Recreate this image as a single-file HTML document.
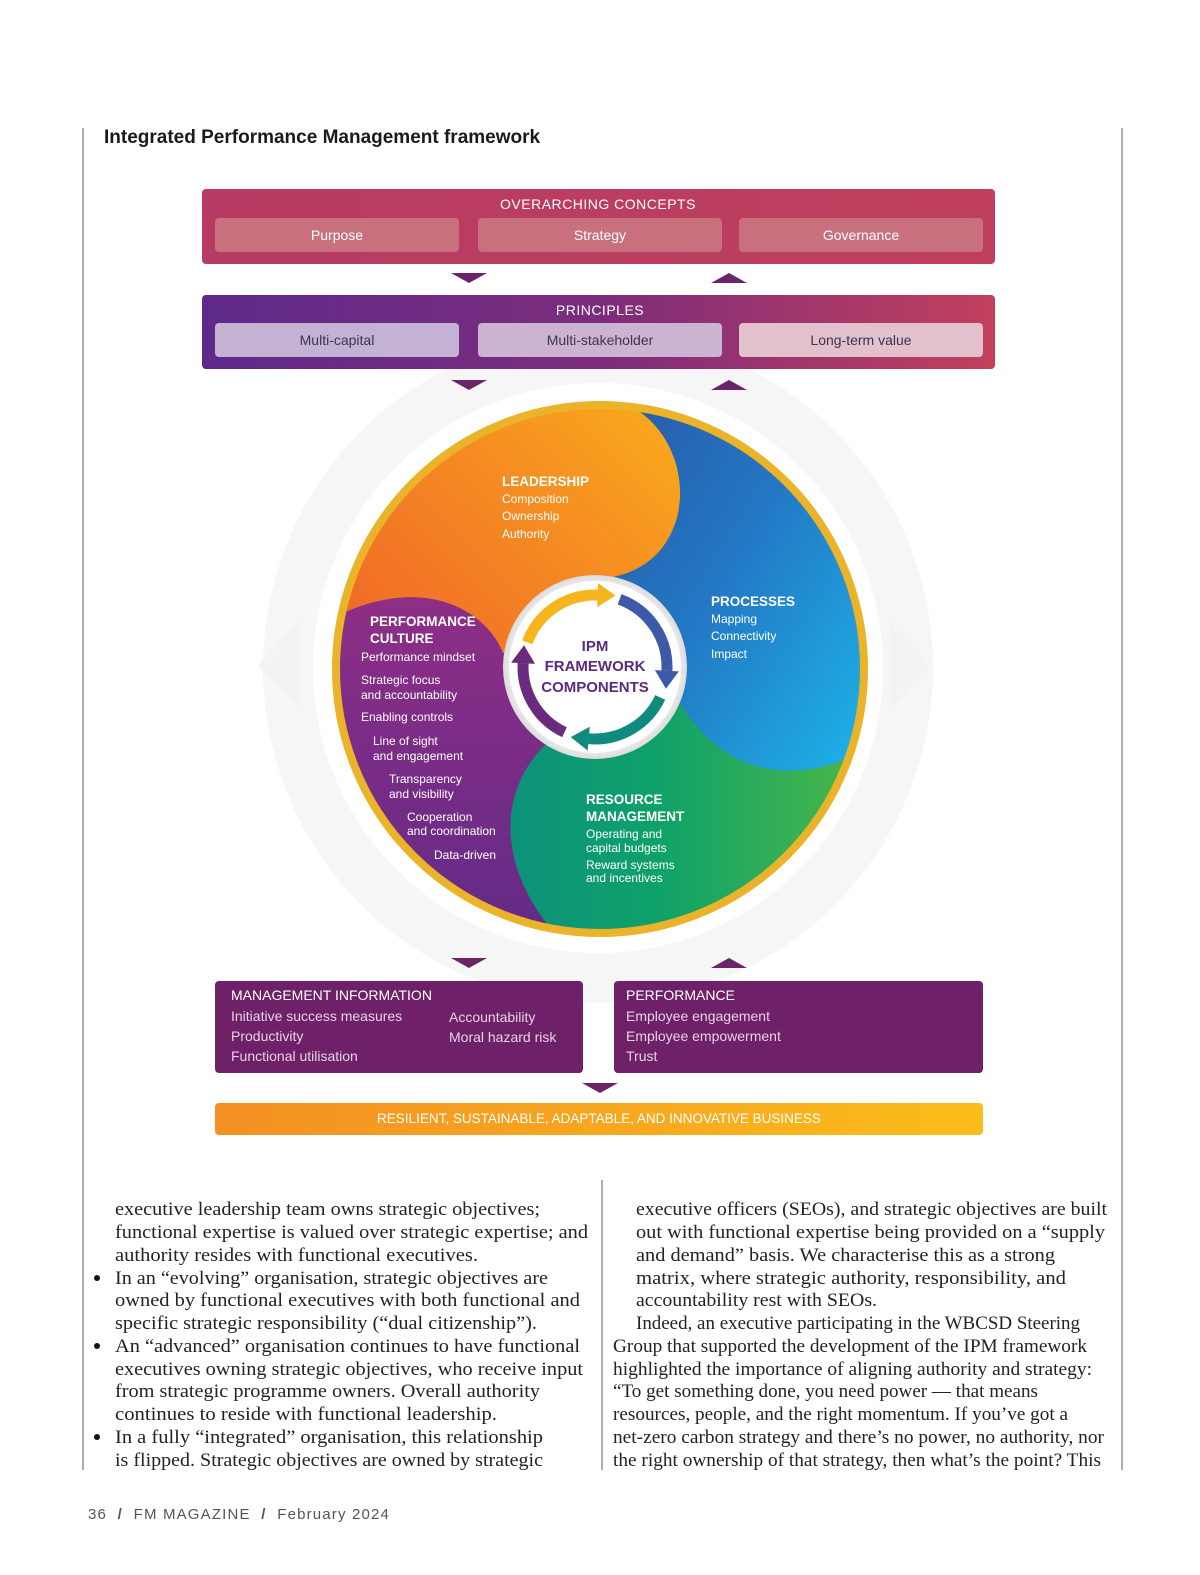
<!DOCTYPE html>
<html><head><meta charset="utf-8"><style>
html,body{margin:0;padding:0;background:#fff;}
svg{display:block;}
.s{font-family:"Liberation Sans",sans-serif;}
.b{font-family:"Liberation Serif",serif;font-size:18.5px;fill:#222;}
</style></head><body>
<svg width="1200" height="1575" viewBox="0 0 1200 1575" xmlns="http://www.w3.org/2000/svg">
<defs>
<linearGradient id="gTop" x1="0" x2="1"><stop offset="0" stop-color="#b73b63"/><stop offset="1" stop-color="#bf3f5c"/></linearGradient>
<linearGradient id="gPr" x1="0" x2="1"><stop offset="0" stop-color="#5e2a8a"/><stop offset="0.5" stop-color="#7c2c7c"/><stop offset="1" stop-color="#c2405c"/></linearGradient>
<linearGradient id="gOr" x1="0" y1="1" x2="1" y2="0"><stop offset="0" stop-color="#ef5f2a"/><stop offset="0.5" stop-color="#f58a22"/><stop offset="1" stop-color="#fbb91b"/></linearGradient>
<linearGradient id="gBl" x1="0" y1="0" x2="1" y2="1"><stop offset="0" stop-color="#2b4f9e"/><stop offset="0.5" stop-color="#2378c4"/><stop offset="1" stop-color="#1cbcec"/></linearGradient>
<linearGradient id="gGr" x1="0" y1="0" x2="1" y2="0"><stop offset="0" stop-color="#0a7f8e"/><stop offset="0.6" stop-color="#0ea16a"/><stop offset="1" stop-color="#4db848"/></linearGradient>
<linearGradient id="gPu" x1="0" y1="0" x2="0" y2="1"><stop offset="0" stop-color="#8e2e86"/><stop offset="1" stop-color="#5a2a86"/></linearGradient>
<linearGradient id="gBar" x1="0" x2="1"><stop offset="0" stop-color="#f39024"/><stop offset="1" stop-color="#fbbd1a"/></linearGradient>
<clipPath id="cc"><circle cx="600" cy="669" r="263"/></clipPath>
<radialGradient id="gW"><stop offset="0.8" stop-color="#fff"/><stop offset="1" stop-color="#dcdcdc"/></radialGradient>
</defs>

<line x1="83" y1="128" x2="83" y2="1470" stroke="#777" stroke-width="1.2"/>
<line x1="1122" y1="128" x2="1122" y2="1470" stroke="#777" stroke-width="1.2"/>
<line x1="602" y1="1180" x2="602" y2="1470" stroke="#777" stroke-width="1.2"/>

<text x="104" y="143" class="s" font-size="19" font-weight="bold" fill="#1a1a1a">Integrated Performance Management framework</text>

<circle cx="598" cy="668" r="310" fill="none" stroke="#f6f6f6" stroke-width="50"/>
<polygon points="258,665 300,620 300,710" fill="#f3f3f3"/>
<polygon points="930,665 890,620 890,710" fill="#f3f3f3"/>

<rect x="202" y="189" width="793" height="75" rx="4" fill="url(#gTop)"/>
<text x="598" y="209" class="s" font-size="14" fill="#fff" text-anchor="middle" letter-spacing="0.5">OVERARCHING CONCEPTS</text>
<rect x="215" y="218" width="244" height="34" rx="4" fill="#c8707e"/>
<rect x="478" y="218" width="244" height="34" rx="4" fill="#c8707e"/>
<rect x="739" y="218" width="244" height="34" rx="4" fill="#c8707e"/>
<g class="s" font-size="14" fill="#fff" text-anchor="middle"><text x="337" y="240">Purpose</text><text x="600" y="240">Strategy</text><text x="861" y="240">Governance</text></g>
<polygon points="451,273 487,273 469,283" fill="#6b2468"/>
<polygon points="711,283 747,283 729,273" fill="#6b2468"/>

<rect x="202" y="295" width="793" height="74" rx="4" fill="url(#gPr)"/>
<text x="600" y="315" class="s" font-size="14" fill="#fff" text-anchor="middle" letter-spacing="0.5">PRINCIPLES</text>
<rect x="215" y="323" width="244" height="34" rx="4" fill="#c4b2d4"/>
<rect x="478" y="323" width="244" height="34" rx="4" fill="#ccb3d2"/>
<rect x="739" y="323" width="244" height="34" rx="4" fill="#e2c0cc"/>
<g class="s" font-size="14" fill="#3e3450" text-anchor="middle"><text x="337" y="345">Multi-capital</text><text x="600" y="345">Multi-stakeholder</text><text x="861" y="345">Long-term value</text></g>
<polygon points="451,380 487,380 469,390" fill="#6b2468"/>
<polygon points="711,390 747,390 729,380" fill="#6b2468"/>

<g clip-path="url(#cc)">
<rect x="330" y="400" width="540" height="540" fill="url(#gGr)"/>
<path d="M300,300 L627,300 L627,404 C700,440 700,560 613,577 L600,668 L503,653 C487,613 430,575 343,613 L300,613 Z" fill="url(#gOr)"/>
<path d="M627,300 L900,300 L900,730 C800,800 715,775 673,690 L600,668 L613,577 C700,560 700,440 627,404 Z" fill="url(#gBl)"/>
<path d="M300,613 L343,613 C430,575 487,613 503,653 L600,668 L560,733 C505,770 480,860 570,950 L300,1000 Z" fill="url(#gPu)"/>
</g>
<circle cx="600" cy="669" r="264" fill="none" stroke="#eab32a" stroke-width="8"/>

<circle cx="595" cy="667" r="92" fill="url(#gW)"/>
<circle cx="595" cy="667" r="86" fill="#fff"/>
<g fill="none" stroke-width="11">
<path d="M527.3,642.4 A72,72 0 0 1 597.5,595.1" stroke="#f6b51e"/>
<path d="M619.6,599.3 A72,72 0 0 1 666.9,670.8" stroke="#3d5aa8"/>
<path d="M660.2,697.4 A72,72 0 0 1 588.7,738.7" stroke="#0e8a7e"/>
<path d="M564.5,732.2 A72,72 0 0 1 523.1,663.2" stroke="#6a2a7e"/>
</g>
<g transform="translate(595,667)">
<polygon points="60,0 84,0 72,18" fill="#f6b51e" transform="rotate(272)"/>
<polygon points="60,0 84,0 72,18" fill="#3d5aa8" transform="rotate(3)"/>
<polygon points="60,0 84,0 72,18" fill="#0e8a7e" transform="rotate(95)"/>
<polygon points="60,0 84,0 72,18" fill="#6a2a7e" transform="rotate(183)"/>
</g>
<g class="s" font-size="15" font-weight="bold" fill="#5a2a7e" text-anchor="middle">
<text x="595" y="651">IPM</text><text x="595" y="671">FRAMEWORK</text><text x="595" y="692">COMPONENTS</text>
</g>

<g class="s" fill="#fff" font-size="12">
<text x="502" y="486" font-size="13.5" font-weight="bold">LEADERSHIP</text>
<text x="502" y="503">Composition</text><text x="502" y="520">Ownership</text><text x="502" y="538">Authority</text>
<text x="711" y="606" font-size="13.5" font-weight="bold">PROCESSES</text>
<text x="711" y="623">Mapping</text><text x="711" y="640">Connectivity</text><text x="711" y="658">Impact</text>
<text x="370" y="626" font-size="13.5" font-weight="bold">PERFORMANCE</text>
<text x="370" y="643" font-size="13.5" font-weight="bold">CULTURE</text>
<text x="361" y="661">Performance mindset</text>
<text x="361" y="684">Strategic focus</text><text x="361" y="699">and accountability</text>
<text x="361" y="721">Enabling controls</text>
<text x="373" y="745">Line of sight</text><text x="373" y="760">and engagement</text>
<text x="389" y="783">Transparency</text><text x="389" y="798">and visibility</text>
<text x="407" y="821">Cooperation</text><text x="407" y="835">and coordination</text>
<text x="434" y="859">Data-driven</text>
<text x="586" y="804" font-size="13.5" font-weight="bold">RESOURCE</text>
<text x="586" y="821" font-size="13.5" font-weight="bold">MANAGEMENT</text>
<text x="586" y="838">Operating and</text><text x="586" y="852">capital budgets</text>
<text x="586" y="869">Reward systems</text><text x="586" y="882">and incentives</text>
</g>

<polygon points="451,958 487,958 469,968" fill="#6b2468"/>
<polygon points="711,968 747,968 729,958" fill="#6b2468"/>
<rect x="215" y="981" width="368" height="92" rx="4" fill="#6e2068"/>
<rect x="614" y="981" width="369" height="92" rx="4" fill="#6e2068"/>
<g class="s" fill="#fff" font-size="14">
<text x="231" y="1000">MANAGEMENT INFORMATION</text>
<text x="626" y="1000">PERFORMANCE</text>
</g>
<g class="s" fill="#e6d4e4" font-size="14">
<text x="231" y="1021">Initiative success measures</text><text x="231" y="1041">Productivity</text><text x="231" y="1061">Functional utilisation</text>
<text x="449" y="1022">Accountability</text><text x="449" y="1042">Moral hazard risk</text>
<text x="626" y="1021">Employee engagement</text><text x="626" y="1041">Employee empowerment</text><text x="626" y="1061">Trust</text>
</g>
<polygon points="582,1083 618,1083 600,1093" fill="#6b2468"/>
<rect x="215" y="1103" width="768" height="32" rx="4" fill="url(#gBar)"/>
<text x="599" y="1123" class="s" font-size="13.5" fill="#fff" text-anchor="middle">RESILIENT, SUSTAINABLE, ADAPTABLE, AND INNOVATIVE BUSINESS</text>

<g class="b">
<text x="115" y="1215" textLength="425" lengthAdjust="spacingAndGlyphs">executive leadership team owns strategic objectives;</text>
<text x="115" y="1238" textLength="473" lengthAdjust="spacingAndGlyphs">functional expertise is valued over strategic expertise; and</text>
<text x="115" y="1261" textLength="363" lengthAdjust="spacingAndGlyphs">authority resides with functional executives.</text>
<text x="115" y="1284" textLength="433" lengthAdjust="spacingAndGlyphs">In an “evolving” organisation, strategic objectives are</text>
<text x="115" y="1306" textLength="465" lengthAdjust="spacingAndGlyphs">owned by functional executives with both functional and</text>
<text x="115" y="1329" textLength="422" lengthAdjust="spacingAndGlyphs">specific strategic responsibility (“dual citizenship”).</text>
<text x="115" y="1352" textLength="465" lengthAdjust="spacingAndGlyphs">An “advanced” organisation continues to have functional</text>
<text x="115" y="1375" textLength="468" lengthAdjust="spacingAndGlyphs">executives owning strategic objectives, who receive input</text>
<text x="115" y="1397" textLength="425" lengthAdjust="spacingAndGlyphs">from strategic programme owners. Overall authority</text>
<text x="115" y="1420" textLength="382" lengthAdjust="spacingAndGlyphs">continues to reside with functional leadership.</text>
<text x="115" y="1443" textLength="428" lengthAdjust="spacingAndGlyphs">In a fully “integrated” organisation, this relationship</text>
<text x="115" y="1466" textLength="428" lengthAdjust="spacingAndGlyphs">is flipped. Strategic objectives are owned by strategic</text>

<text x="636" y="1215" textLength="471" lengthAdjust="spacingAndGlyphs">executive officers (SEOs), and strategic objectives are built</text>
<text x="636" y="1238" textLength="469" lengthAdjust="spacingAndGlyphs">out with functional expertise being provided on a “supply</text>
<text x="636" y="1261" textLength="419" lengthAdjust="spacingAndGlyphs">and demand” basis. We characterise this as a strong</text>
<text x="636" y="1284" textLength="430" lengthAdjust="spacingAndGlyphs">matrix, where strategic authority, responsibility, and</text>
<text x="636" y="1306" textLength="241" lengthAdjust="spacingAndGlyphs">accountability rest with SEOs.</text>
<text x="636" y="1329" textLength="444" lengthAdjust="spacingAndGlyphs">Indeed, an executive participating in the WBCSD Steering</text>
<text x="613" y="1352" textLength="474" lengthAdjust="spacingAndGlyphs">Group that supported the development of the IPM framework</text>
<text x="613" y="1375" textLength="479" lengthAdjust="spacingAndGlyphs">highlighted the importance of aligning authority and strategy:</text>
<text x="613" y="1397" textLength="425" lengthAdjust="spacingAndGlyphs">“To get something done, you need power — that means</text>
<text x="613" y="1420" textLength="455" lengthAdjust="spacingAndGlyphs">resources, people, and the right momentum. If you’ve got a</text>
<text x="613" y="1443" textLength="491" lengthAdjust="spacingAndGlyphs">net-zero carbon strategy and there’s no power, no authority, nor</text>
<text x="613" y="1466" textLength="488" lengthAdjust="spacingAndGlyphs">the right ownership of that strategy, then what’s the point? This</text>
</g>
<g fill="#111"><circle cx="97" cy="1278" r="3"/><circle cx="97" cy="1346" r="3"/><circle cx="97" cy="1437" r="3"/></g>

<text x="88" y="1519" class="s" font-size="15" fill="#555" letter-spacing="1.2" xml:space="preserve" textLength="302">36  <tspan font-weight="bold">/</tspan>  FM MAGAZINE  <tspan font-weight="bold">/</tspan>  February 2024</text>
</svg>
</body></html>
